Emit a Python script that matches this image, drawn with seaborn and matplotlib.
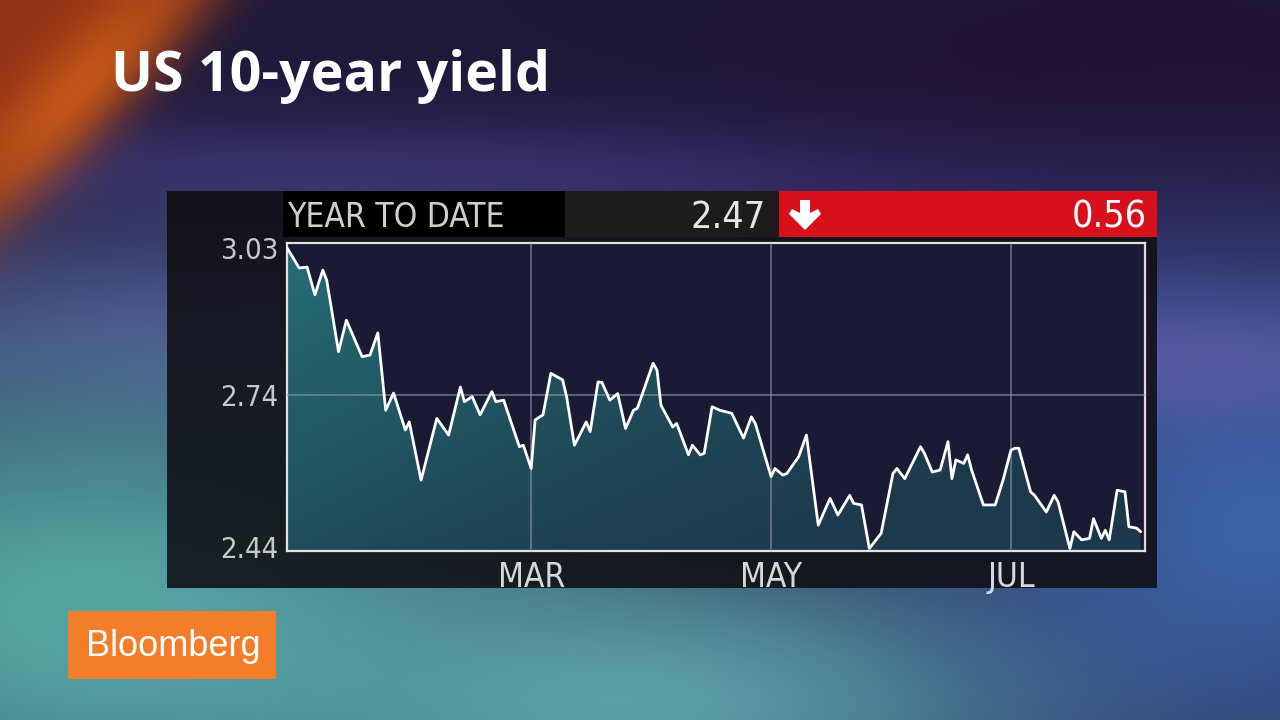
import numpy as np
import pandas as pd
import matplotlib
matplotlib.use("Agg")
import matplotlib.pyplot as plt
import matplotlib.dates as mdates
import seaborn as sns
from matplotlib.patches import Rectangle, Polygon
from matplotlib import font_manager as fm

# ---------------- data ----------------
dates = [
    "2013-12-29", "2014-01-01", "2014-01-03", "2014-01-05", "2014-01-07", "2014-01-08",
    "2014-01-11", "2014-01-13", "2014-01-17", "2014-01-19", "2014-01-21", "2014-01-23",
    "2014-01-25", "2014-01-28", "2014-01-29", "2014-02-01", "2014-02-05", "2014-02-08",
    "2014-02-11", "2014-02-12", "2014-02-14", "2014-02-16", "2014-02-19", "2014-02-20",
    "2014-02-22", "2014-02-26", "2014-02-27", "2014-03-01", "2014-03-02", "2014-03-04",
    "2014-03-06", "2014-03-09", "2014-03-10", "2014-03-12", "2014-03-15", "2014-03-16",
    "2014-03-18", "2014-03-19", "2014-03-21", "2014-03-23", "2014-03-25", "2014-03-27",
    "2014-03-28", "2014-04-01", "2014-04-02", "2014-04-03", "2014-04-06", "2014-04-07",
    "2014-04-10", "2014-04-11", "2014-04-13", "2014-04-14", "2014-04-16", "2014-04-18",
    "2014-04-21", "2014-04-24", "2014-04-26", "2014-04-27", "2014-05-01", "2014-05-02",
    "2014-05-04", "2014-05-05", "2014-05-08", "2014-05-10", "2014-05-13", "2014-05-16",
    "2014-05-18", "2014-05-21", "2014-05-22", "2014-05-24", "2014-05-26", "2014-05-29",
    "2014-06-01", "2014-06-02", "2014-06-04", "2014-06-08", "2014-06-09", "2014-06-11",
    "2014-06-13", "2014-06-15", "2014-06-16", "2014-06-17", "2014-06-19", "2014-06-20",
    "2014-06-21", "2014-06-24", "2014-06-27", "2014-06-29", "2014-07-01", "2014-07-02",
    "2014-07-03", "2014-07-06", "2014-07-07", "2014-07-10", "2014-07-12", "2014-07-13",
    "2014-07-16", "2014-07-17", "2014-07-19", "2014-07-21", "2014-07-22", "2014-07-24",
    "2014-07-25", "2014-07-26", "2014-07-28", "2014-07-30", "2014-07-31", "2014-08-02",
    "2014-08-03",
]
yields = [
    3.030, 2.991, 2.993, 2.938, 2.987, 2.967,
    2.826, 2.888, 2.816, 2.819, 2.863, 2.710,
    2.744, 2.671, 2.687, 2.572, 2.694, 2.661,
    2.756, 2.727, 2.737, 2.701, 2.747, 2.727,
    2.730, 2.638, 2.641, 2.595, 2.691, 2.701,
    2.783, 2.770, 2.737, 2.641, 2.687, 2.668,
    2.766, 2.765, 2.730, 2.743, 2.674, 2.710,
    2.714, 2.803, 2.789, 2.720, 2.677, 2.684,
    2.622, 2.641, 2.622, 2.625, 2.717, 2.710,
    2.704, 2.655, 2.697, 2.684, 2.579, 2.595,
    2.582, 2.585, 2.618, 2.661, 2.483, 2.536,
    2.503, 2.542, 2.526, 2.523, 2.437, 2.467,
    2.585, 2.595, 2.575, 2.638, 2.625, 2.588,
    2.592, 2.648, 2.575, 2.612, 2.605, 2.622,
    2.592, 2.523, 2.523, 2.572, 2.631, 2.635,
    2.635, 2.549, 2.542, 2.509, 2.542, 2.529,
    2.437, 2.470, 2.454, 2.457, 2.496, 2.457,
    2.473, 2.454, 2.552, 2.549, 2.480, 2.477,
    2.470,
]
ytick_values = [2.44, 2.74, 3.03]
ytick_labels = ["2.44", "2.74", "3.03"]
xtick_dates = ["2014-03-01", "2014-05-01", "2014-07-01"]
xtick_labels = ["MAR", "MAY", "JUL"]
title_text = "US 10-year yield"
period_text = "YEAR TO DATE"
last_text = "2.47"
change_text = "0.56"
brand_text = "Bloomberg"

df = pd.DataFrame({"date": pd.to_datetime(dates), "yield": yields})

# ---------------- fonts ----------------
cond_fp = None
for f in fm.fontManager.ttflist:
    if f.name in ("Liberation Sans Narrow", "DejaVu Sans Condensed") or \
       (f.name == "DejaVu Sans" and "ondensed" in f.fname and "Bold" not in f.fname and "Oblique" not in f.fname):
        cond_fp = fm.FontProperties(fname=f.fname)
        break
if cond_fp is None:
    cond_fp = fm.FontProperties(family=["Roboto", "DejaVu Sans"])
    cond_scale = 0.92
else:
    cond_scale = 1.0

# ---------------- figure ----------------
W, H = 1280, 720
sns.set_theme(style="dark")
plt.rcParams["font.family"] = ["DejaVu Sans"]
plt.rcParams["patch.edgecolor"] = "none"
plt.rcParams["patch.linewidth"] = 0
fig = plt.figure(figsize=(12.8, 7.2), dpi=100)
fig.patch.set_facecolor("#1e1a3a")

# background layer (pixel coordinates)
bg = fig.add_axes([0, 0, 1, 1], zorder=0)
bg.set_xlim(0, W)
bg.set_ylim(H, 0)
bg.axis("off")

gy, gx = np.mgrid[0:H:4, 0:W:4].astype(float)
img = np.ones(gx.shape + (3,)) * np.array([30, 24, 58]) / 255.0
blobs = [
    # cx, cy, rx, ry, color, strength
    (520, 340, 750, 120, (95, 85, 172), 0.85),
    (400, 170, 700, 55, (70, 58, 135), 0.55),
    (90, 610, 520, 260, (82, 165, 160), 1.0),
    (650, 700, 480, 150, (96, 168, 175), 0.9),
    (1260, 520, 320, 250, (62, 104, 178), 0.9),
    (1180, 360, 250, 60, (105, 95, 175), 0.6),
    (1150, 60, 400, 120, (36, 14, 50), 0.6),
]
for cx, cy, rx, ry, col, s in blobs:
    w = s * np.exp(-(((gx - cx) / rx) ** 2 + ((gy - cy) / ry) ** 2))
    img = img * (1 - w[..., None]) + np.array(col)[None, None, :] / 255.0 * w[..., None]
# orange corner in the top-left (triangle plus brighter diagonal edge)
diag = gx + gy * 0.95
w = 0.9 / (1 + np.exp((diag - 200) / 22.0))
img = img * (1 - w[..., None]) + np.array([160, 55, 18])[None, None, :] / 255.0 * w[..., None]
w = 0.85 * np.exp(-((diag - 160) / 60.0) ** 2) * np.exp(-(np.abs(gx - gy * 0.9) / 220.0) ** 2)
img = img * (1 - w[..., None]) + np.array([205, 92, 24])[None, None, :] / 255.0 * w[..., None]
bg.imshow(np.clip(img, 0, 1), extent=[0, W, H, 0], interpolation="bicubic", aspect="auto", zorder=0)

# chart panel and header
def rect(x, y, w_, h_, color, z, alpha=1.0):
    bg.add_patch(Rectangle((x, y), w_, h_, facecolor=color, edgecolor="none",
                           linewidth=0, alpha=alpha, zorder=z))

rect(167, 191, 990, 397, (0.06, 0.06, 0.08), 1, alpha=0.88)
rect(283, 191, 282, 46, "black", 2)
rect(565, 191, 214, 46, "#1c1c1e", 2)
rect(779, 191, 378, 46, "#d8101c", 2)
arrow = [(800, 200), (810, 200), (810, 213), (818, 209), (821, 214), (805, 230),
         (789, 214), (792, 209), (800, 213)]
bg.add_patch(Polygon(arrow, closed=True, facecolor="white", edgecolor="none", linewidth=0, zorder=3))
bg.text(287, 227, period_text, fontproperties=cond_fp, fontsize=24 * cond_scale,
        color="#cfcfcf", ha="left", va="baseline", zorder=3)
bg.text(766, 228, last_text, fontproperties=cond_fp, fontsize=27 * cond_scale,
        color="#e6e6e6", ha="right", va="baseline", zorder=3)
bg.text(1147, 228, change_text, fontproperties=cond_fp, fontsize=27 * cond_scale,
        color="white", ha="right", va="baseline", zorder=3)

# title
bg.text(111, 91, title_text, fontsize=40, fontweight="bold", color="white",
        family=["Open Sans", "DejaVu Sans"], ha="left", va="baseline", zorder=3)

# brand box
rect(68, 611, 208, 68, "#f47d2a", 2)
bg.text(173, 647, brand_text, fontsize=26, color="white", family=["Liberation Sans", "DejaVu Sans"],
        ha="center", va="center", zorder=3)

# ---------------- main chart ----------------
ax = fig.add_axes([287 / W, 1 - 551 / H, (1145 - 287) / W, (551 - 243) / H], zorder=5)
ax.patch.set_facecolor((0.10, 0.11, 0.21, 0.92))

x0 = pd.Timestamp("2014-03-01") - pd.Timedelta(days=62.1)
x1 = pd.Timestamp("2014-03-01") + pd.Timedelta(days=156.1)
y0, y1 = 2.432, 3.0405

sns.lineplot(data=df, x="date", y="yield", ax=ax, color="white", linewidth=2.0, zorder=6)

# gradient fill under the line
fb = ax.fill_between(df["date"], df["yield"], y0, facecolor="none", edgecolor="none")
gyy, gxx = np.mgrid[0:1:100j, 0:1:200j]
top_col = np.array([38, 110, 120]) / 255.0
bot_col = np.array([30, 64, 80]) / 255.0
right_col = np.array([28, 48, 74]) / 255.0
t = (gyy * 0.7 + gxx * 0.6).clip(0, 1)[..., None]
grad = top_col * (1 - t) + bot_col * t
grad = grad * (1 - 0.5 * gxx[..., None]) + right_col * 0.5 * gxx[..., None]
im = ax.imshow(grad, extent=[mdates.date2num(x0), mdates.date2num(x1), y0, y1],
               origin="upper", aspect="auto", zorder=2, interpolation="bilinear")
im.set_clip_path(fb.get_paths()[0], transform=ax.transData)

ax.set_xlim(x0, x1)
ax.set_ylim(y0, y1)

grid_col = (0.58, 0.61, 0.67, 0.7)
for d in xtick_dates:
    ax.axvline(pd.Timestamp(d), color=grid_col, linewidth=1.1, zorder=4)
ax.axhline(ytick_values[1], color=grid_col, linewidth=1.1, zorder=4)
ax.grid(False)

ax.set_yticks(ytick_values)
ax.set_yticklabels(ytick_labels)
ax.set_xticks(pd.to_datetime(xtick_dates))
ax.set_xticklabels(xtick_labels)
ax.tick_params(axis="y", length=0, pad=6)
ax.tick_params(axis="x", length=0, pad=7)
for lab in ax.get_yticklabels():
    lab.set_fontproperties(cond_fp)
    lab.set_fontsize(21 * cond_scale)
    lab.set_color("#c8c8c8")
for lab in ax.get_xticklabels():
    lab.set_fontproperties(cond_fp)
    lab.set_fontsize(24 * cond_scale)
    lab.set_color("#d8d8d8")
ax.set_xlabel("")
ax.set_ylabel("")
for sp in ax.spines.values():
    sp.set_visible(True)
    sp.set_color("#e2e2e2")
    sp.set_linewidth(1.6)
ax.spines["right"].set_color("#e8d2dc")

fig.savefig("out.png", dpi=100, facecolor=fig.get_facecolor())
